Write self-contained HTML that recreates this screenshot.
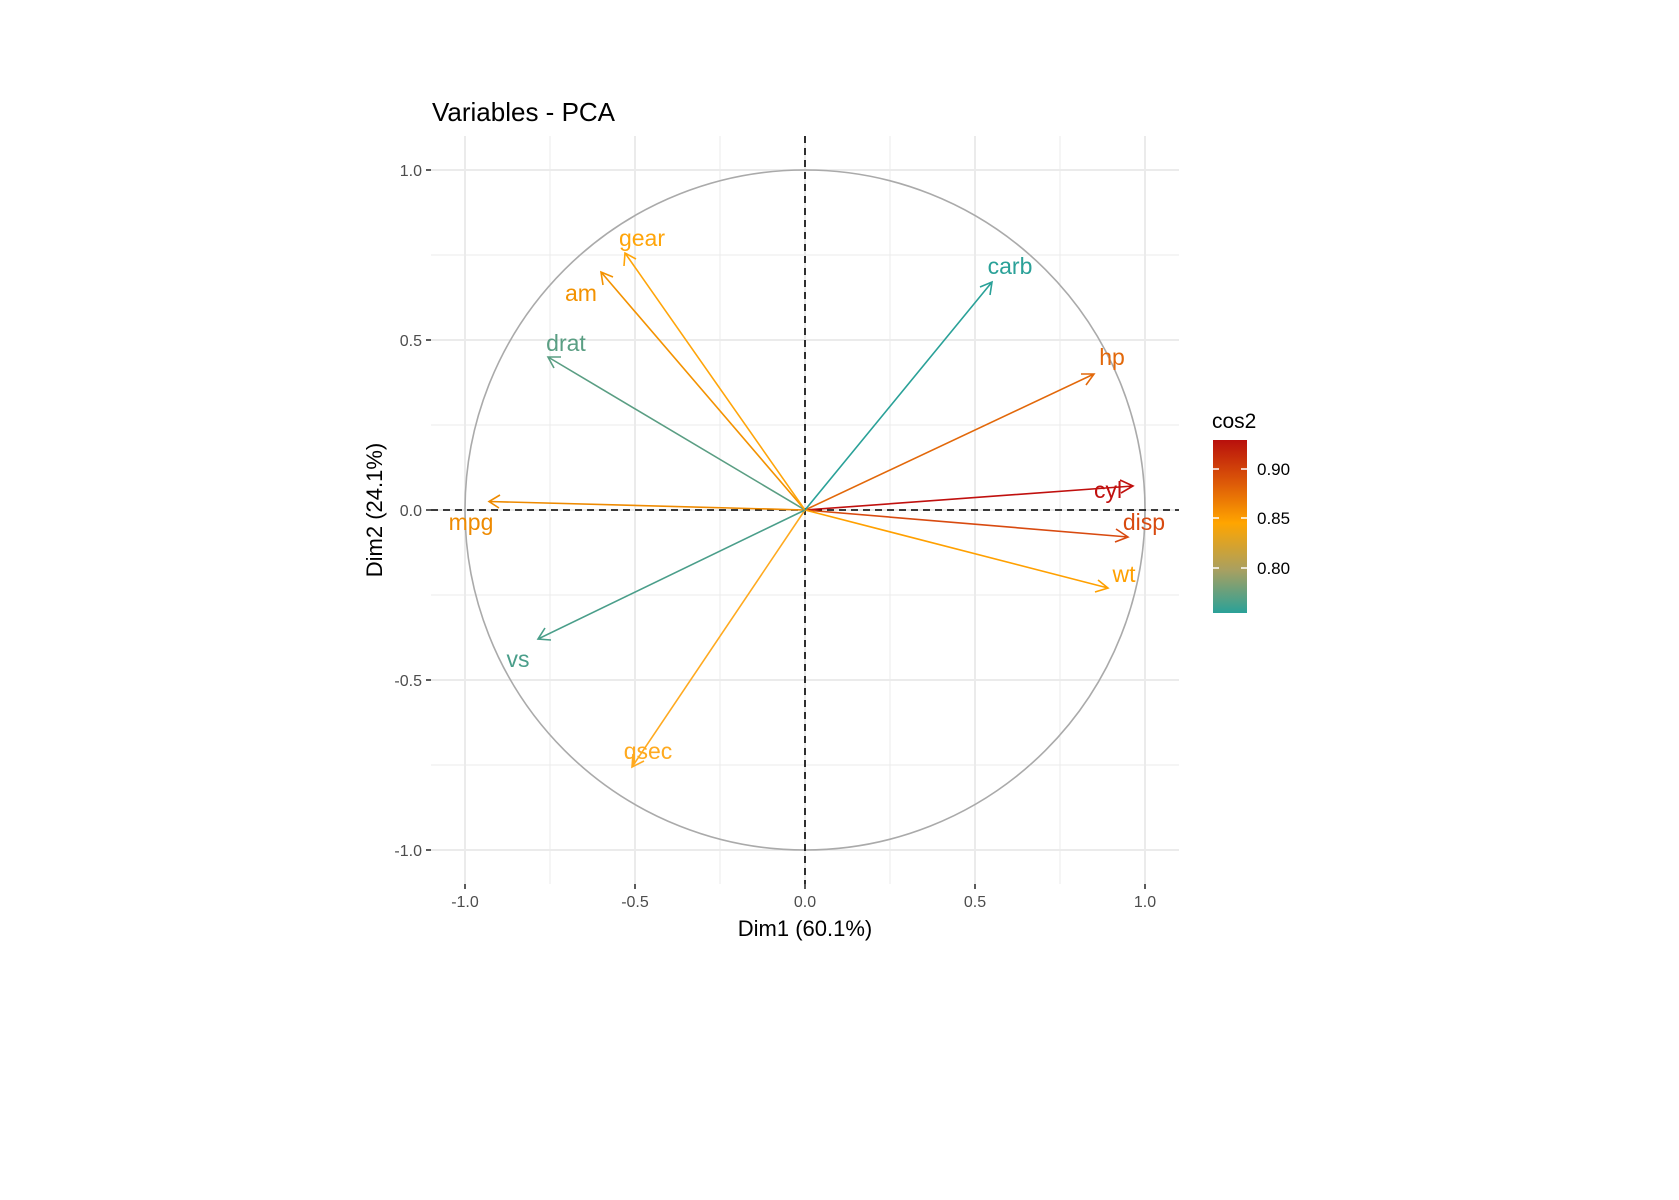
<!DOCTYPE html>
<html><head><meta charset="utf-8"><style>html,body{margin:0;padding:0;background:#fff}svg{display:block}text{font-family:"Liberation Sans",Arial,sans-serif}</style></head><body>
<svg width="1679" height="1200" viewBox="0 0 1679 1200" xmlns="http://www.w3.org/2000/svg">
<defs>
<linearGradient id="g" x1="0" y1="0" x2="0" y2="1">
<stop offset="0" stop-color="#B8100C"/><stop offset="0.25" stop-color="#DD5A08"/><stop offset="0.48" stop-color="#FFA500"/><stop offset="0.75" stop-color="#A9A060"/><stop offset="1" stop-color="#2AA198"/>
</linearGradient>
<clipPath id="p"><rect x="431" y="136" width="748" height="748"/></clipPath>
</defs>
<text x="432" y="121" font-size="26" fill="#000">Variables - PCA</text>
<g stroke="#EBEBEB" stroke-width="1" clip-path="url(#p)">
<line x1="550" y1="136" x2="550" y2="884"/><line x1="720" y1="136" x2="720" y2="884"/><line x1="890" y1="136" x2="890" y2="884"/><line x1="1060" y1="136" x2="1060" y2="884"/>
<line x1="431" y1="255" x2="1179" y2="255"/><line x1="431" y1="425" x2="1179" y2="425"/><line x1="431" y1="595" x2="1179" y2="595"/><line x1="431" y1="765" x2="1179" y2="765"/>
</g>
<g stroke="#EBEBEB" stroke-width="2">
<line x1="465" y1="136" x2="465" y2="884"/><line x1="635" y1="136" x2="635" y2="884"/><line x1="805" y1="136" x2="805" y2="884"/><line x1="975" y1="136" x2="975" y2="884"/><line x1="1145" y1="136" x2="1145" y2="884"/>
<line x1="431" y1="170" x2="1179" y2="170"/><line x1="431" y1="340" x2="1179" y2="340"/><line x1="431" y1="510" x2="1179" y2="510"/><line x1="431" y1="680" x2="1179" y2="680"/><line x1="431" y1="850" x2="1179" y2="850"/>
</g>
<circle cx="805" cy="510" r="340" fill="none" stroke="#AAAAAA" stroke-width="1.6"/>
<g stroke="#000" stroke-width="1.6" stroke-dasharray="7,5">
<line x1="805" y1="136" x2="805" y2="884"/><line x1="431" y1="510" x2="1179" y2="510"/>
</g>
<g stroke-width="1.6" fill="none">
<path d="M805 510L489 501.5M500 495L489 501.5L499 508" stroke="#EE8A00"/>
<path d="M805 510L1133 486M1120 480L1133 486L1121 493" stroke="#C0100E"/>
<path d="M805 510L1128 537M1116 529L1128 537L1115 542" stroke="#D84A10"/>
<path d="M805 510L1094 374M1081 374L1094 374L1086 385" stroke="#E2680A"/>
<path d="M805 510L548 357M554 368L548 357L561 357" stroke="#5A9E83"/>
<path d="M805 510L1108 588M1098 580L1108 588L1095 592" stroke="#FFA000"/>
<path d="M805 510L632 767M633 754L632 767L644 761" stroke="#FFAA20"/>
<path d="M805 510L538 639M545 628L538 639L551 640" stroke="#4A9E8A"/>
<path d="M805 510L601 272M603 285L601 272L613 277" stroke="#F39200"/>
<path d="M805 510L625 253M624 266L625 253L636 259" stroke="#FFA50A"/>
<path d="M805 510L992 282M980 287L992 282L990 295" stroke="#2AA198"/>
</g>
<g font-size="23" text-anchor="middle">
<text x="471" y="530" fill="#EE8A00">mpg</text>
<text x="1108" y="498" fill="#C0100E">cyl</text>
<text x="1144" y="530" fill="#D84A10">disp</text>
<text x="1112" y="365" fill="#E2680A">hp</text>
<text x="566" y="351" fill="#5A9E83">drat</text>
<text x="1124" y="582" fill="#FFA000">wt</text>
<text x="648" y="759" fill="#FFAA20">qsec</text>
<text x="518" y="667" fill="#4A9E8A">vs</text>
<text x="581" y="301" fill="#F39200">am</text>
<text x="642" y="246" fill="#FFA50A">gear</text>
<text x="1010" y="274" fill="#2AA198">carb</text>
</g>
<g stroke="#333" stroke-width="1.6">
<line x1="426" y1="170" x2="431" y2="170"/><line x1="426" y1="340" x2="431" y2="340"/><line x1="426" y1="510" x2="431" y2="510"/><line x1="426" y1="680" x2="431" y2="680"/><line x1="426" y1="850" x2="431" y2="850"/>
<line x1="465" y1="884" x2="465" y2="889"/><line x1="635" y1="884" x2="635" y2="889"/><line x1="805" y1="884" x2="805" y2="889"/><line x1="975" y1="884" x2="975" y2="889"/><line x1="1145" y1="884" x2="1145" y2="889"/>
</g>
<g font-size="16" fill="#4D4D4D" text-anchor="end">
<text x="422" y="176">1.0</text><text x="422" y="346">0.5</text><text x="422" y="516">0.0</text><text x="422" y="686">-0.5</text><text x="422" y="856">-1.0</text>
</g>
<g font-size="16" fill="#4D4D4D" text-anchor="middle">
<text x="465" y="907">-1.0</text><text x="635" y="907">-0.5</text><text x="805" y="907">0.0</text><text x="975" y="907">0.5</text><text x="1145" y="907">1.0</text>
</g>
<text x="805" y="936" font-size="22" text-anchor="middle" fill="#000">Dim1 (60.1%)</text>
<text transform="translate(382,510) rotate(-90)" font-size="22" text-anchor="middle" fill="#000">Dim2 (24.1%)</text>
<text x="1212" y="428" font-size="21" fill="#000">cos2</text>
<rect x="1213" y="440" width="34" height="173" fill="url(#g)"/>
<g stroke="#fff" stroke-width="1.5">
<line x1="1213" y1="469" x2="1219" y2="469"/><line x1="1241" y1="469" x2="1247" y2="469"/>
<line x1="1213" y1="518" x2="1219" y2="518"/><line x1="1241" y1="518" x2="1247" y2="518"/>
<line x1="1213" y1="568" x2="1219" y2="568"/><line x1="1241" y1="568" x2="1247" y2="568"/>
</g>
<g font-size="17" fill="#000">
<text x="1257" y="475">0.90</text><text x="1257" y="524">0.85</text><text x="1257" y="574">0.80</text>
</g>
</svg>
</body></html>
